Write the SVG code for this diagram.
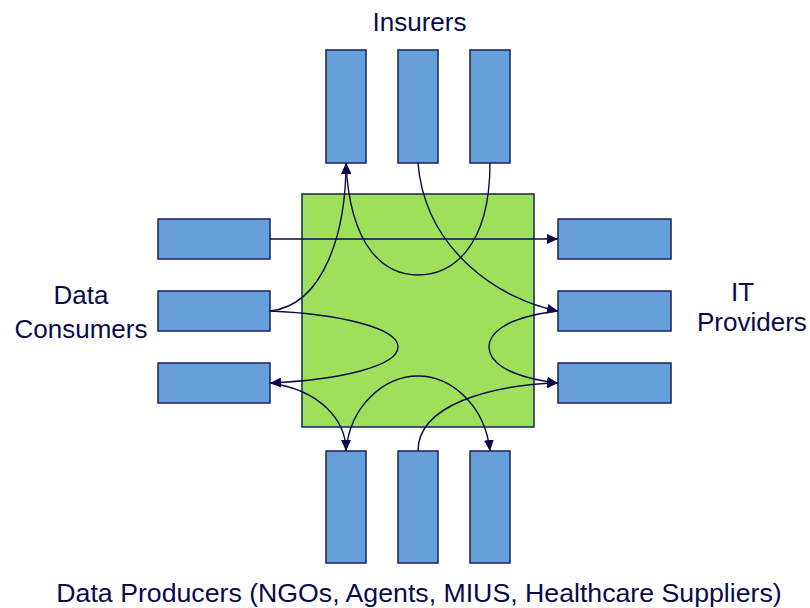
<svg xmlns="http://www.w3.org/2000/svg" width="810" height="608" viewBox="0 0 810 608">
<defs>
<marker id="arr" markerUnits="userSpaceOnUse" markerWidth="12" markerHeight="10" refX="11" refY="5" orient="auto">
<path d="M0,0 L11,5 L0,10 Z" fill="#0a0a4a"/>
</marker>
<style>
.box{fill:#669fd9;stroke:#18215e;stroke-width:1.5}
.hub{fill:#9fe05a;stroke:#18215e;stroke-width:1.5}
.c{fill:none;stroke:#0a0a4a;stroke-width:1.4}
.t{font-family:"Liberation Sans",Arial,sans-serif;font-size:26px;fill:#0a0a4a}
</style>
</defs>
<rect width="810" height="608" fill="#ffffff"/>
<g id="hub"><rect class="hub" x="302" y="194" width="232" height="233"/></g>
<g id="insurer1"><rect class="box" x="326" y="50" width="40" height="113"/></g>
<g id="insurer2"><rect class="box" x="398" y="50" width="40" height="113"/></g>
<g id="insurer3"><rect class="box" x="470" y="50" width="40" height="113"/></g>
<g id="producer1"><rect class="box" x="326" y="451" width="40" height="112"/></g>
<g id="producer2"><rect class="box" x="398" y="451" width="40" height="112"/></g>
<g id="producer3"><rect class="box" x="470" y="451" width="40" height="112"/></g>
<g id="consumer1"><rect class="box" x="158" y="219" width="112" height="40"/></g>
<g id="consumer2"><rect class="box" x="158" y="291" width="112" height="40"/></g>
<g id="consumer3"><rect class="box" x="158" y="363" width="112" height="40"/></g>
<g id="provider1"><rect class="box" x="558" y="219" width="113" height="40"/></g>
<g id="provider2"><rect class="box" x="558" y="291" width="113" height="40"/></g>
<g id="provider3"><rect class="box" x="558" y="363" width="113" height="40"/></g>
<g id="connectors">
<path class="c" d="M270,239 L558,239" marker-end="url(#arr)"/>
<path class="c" d="M270,311 C325,305 346,230 346,163" marker-end="url(#arr)"/>
<path class="c" d="M490,163 C490,250 450,275 418,275 C386,275 350,250 346,163" marker-end="url(#arr)"/>
<path class="c" d="M418,163 C425,250 500,300 558,311" marker-end="url(#arr)"/>
<path class="c" d="M270,311 C340,314 398,328 398,347 C398,366 340,380 270,383" marker-end="url(#arr)"/>
<path class="c" d="M558,311 C500,318 489,336 489,347 C489,358 500,376 558,383" marker-end="url(#arr)"/>
<path class="c" d="M270,383 C320,390 346,420 346,451" marker-end="url(#arr)"/>
<path class="c" d="M346,451 C350,405 385,376 418,376 C451,376 485,405 490,451" marker-end="url(#arr)"/>
<path class="c" d="M418,451 C418,405 490,385 558,383" marker-end="url(#arr)"/>
</g>
<g id="labels">
<text class="t" x="419.5" y="31" text-anchor="middle">Insurers</text>
<text class="t" x="81" y="304" text-anchor="middle">Data</text>
<text class="t" x="81" y="338" text-anchor="middle">Consumers</text>
<text class="t" x="731" y="301">IT</text>
<text class="t" x="697" y="331">Providers</text>
<text class="t" x="419" y="602" text-anchor="middle" style="font-size:26.7px">Data Producers (NGOs, Agents, MIUS, Healthcare Suppliers)</text>
</g>
</svg>
